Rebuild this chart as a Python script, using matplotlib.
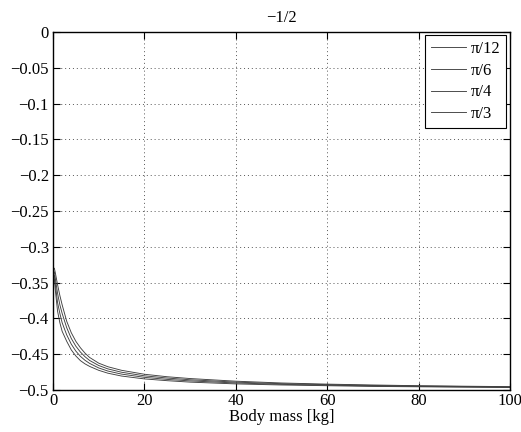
import matplotlib
matplotlib.use('Agg')
import numpy as np
from matplotlib import pyplot as plt
from matplotlib.ticker import FuncFormatter

mass = [0.3, 0.5, 1, 1.5, 2, 3, 4, 5, 6, 7, 8, 10, 12, 15, 20, 25, 30, 40, 50, 60, 70, 80, 90, 100]

pi12 = [-0.345, -0.360, -0.390, -0.406, -0.418, -0.432, -0.444, -0.4525, -0.459, -0.4635, -0.467, -0.4725,
        -0.4765, -0.4805, -0.4845, -0.487, -0.489, -0.4915, -0.493, -0.494, -0.495, -0.4955, -0.496, -0.4965]
pi6 = [-0.340, -0.352, -0.378, -0.393, -0.406, -0.423, -0.436, -0.4457, -0.453, -0.4585, -0.4628, -0.4692,
       -0.4735, -0.4778, -0.4823, -0.4852, -0.4873, -0.4902, -0.4921, -0.4933, -0.4943, -0.4950, -0.4956, -0.4961]
pi4 = [-0.335, -0.344, -0.365, -0.381, -0.393, -0.413, -0.428, -0.4388, -0.447, -0.4535, -0.4587, -0.4658,
       -0.4705, -0.4752, -0.4802, -0.4833, -0.4857, -0.4890, -0.4912, -0.4925, -0.4937, -0.4945, -0.4951, -0.4957]
pi3 = [-0.330, -0.336, -0.353, -0.368, -0.381, -0.404, -0.420, -0.432, -0.441, -0.4485, -0.4545, -0.4625,
       -0.4675, -0.4725, -0.478, -0.4815, -0.484, -0.4877, -0.4902, -0.4918, -0.493, -0.494, -0.4947, -0.4953]

labels = ['π/12', 'π/6', 'π/4', 'π/3']
xticks = [0, 20, 40, 60, 80, 100]
yticks = [0, -0.05, -0.1, -0.15, -0.2, -0.25, -0.3, -0.35, -0.4, -0.45, -0.5]

plt.rcParams['font.family'] = ['Liberation Serif', 'DejaVu Serif']
plt.rcParams['font.size'] = 12

fig = plt.figure(figsize=(5.21, 4.32), dpi=100)
ax = fig.add_axes([53 / 521, 1 - 390 / 432, 457 / 521, 358 / 432])

for series, lab in zip([pi12, pi6, pi4, pi3], labels):
    ax.plot(mass, series, color='#404040', lw=0.65, label=lab)

ax.set_xlim(0, 100)
ax.set_ylim(-0.5, 0)
ax.set_xticks(xticks)
ax.set_yticks(yticks)
ax.yaxis.set_major_formatter(FuncFormatter(lambda v, p: '0' if v == 0 else ('%g' % v).replace('-', '\u2212')))
ax.tick_params(direction='in', top=True, right=True, length=5, width=0.8, labelsize=12, pad=3)
ax.tick_params(axis='x', pad=2)
ax.grid(True, linestyle=(0, (1, 3)), color='#555555', lw=0.7)
for s in ax.spines.values():
    s.set_linewidth(1.0)

ax.set_title('\u22121/2', fontsize=12, pad=7)
ax.set_xlabel('Body mass [kg]', fontsize=12, labelpad=0)

leg = ax.legend(loc='upper right', bbox_to_anchor=(0.992, 0.992), fancybox=False, framealpha=1,
                edgecolor='black', handlelength=2.1, handletextpad=0.3, borderpad=0.35,
                labelspacing=0.35, borderaxespad=0.0, fontsize=12)
leg.get_frame().set_linewidth(0.8)

fig.savefig('out.png', dpi=100)
